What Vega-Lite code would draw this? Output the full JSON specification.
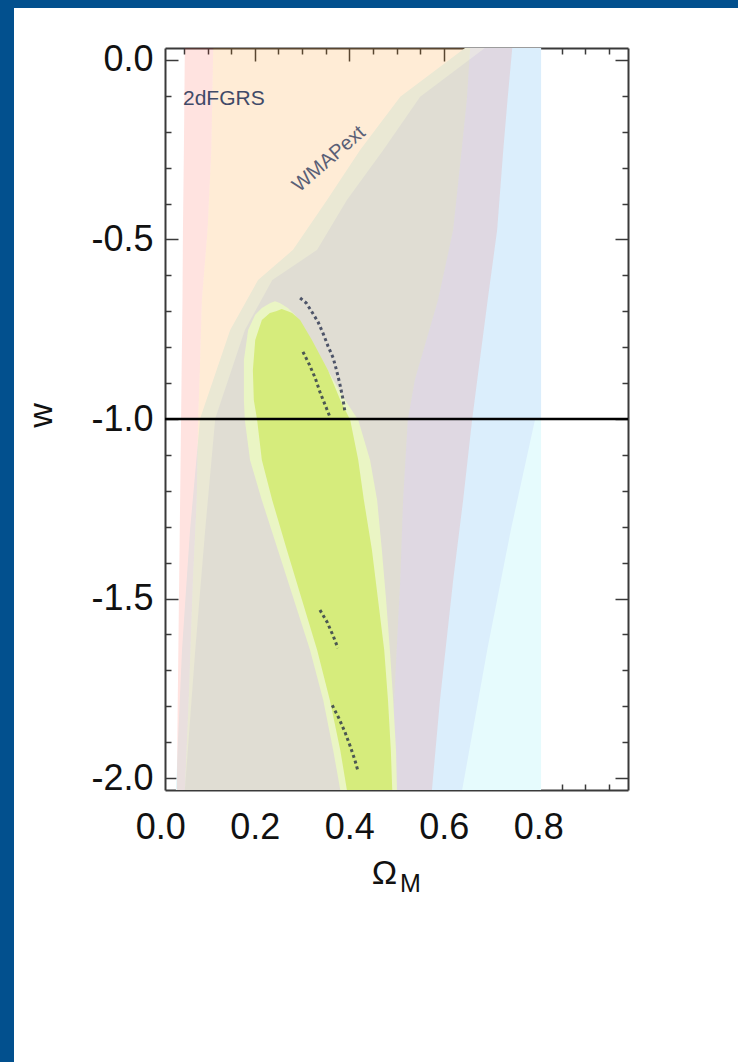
{
  "$schema": "https://vega.github.io/schema/vega-lite/v6.json",
  "width": 724,
  "height": 1054,
  "autosize": {"type": "none"},
  "padding": {"left": 14, "top": 8, "right": 0, "bottom": 0},
  "background": "#02508e",
  "config": {
    "view": {"fill": "white", "stroke": null},
    "axis": {
      "grid": false,
      "zindex": 3,
      "domainColor": "#3a3a3a",
      "domainWidth": 2,
      "tickColor": "#3a3a3a",
      "tickWidth": 1.5,
      "labelFont": "Liberation Sans",
      "titleFont": "Liberation Sans",
      "labelColor": "#111111",
      "titleColor": "#111111",
      "titleFontWeight": "normal",
      "labelFlush": false,
      "labelOverlap": false
    }
  },
  "datasets": {
    "wmap": [
      {"w": 0.033, "outer_lo": 0.645, "inner_lo": 0.687, "inner_hi": 0.806, "outer_hi": 0.806},
      {"w": -0.103, "outer_lo": 0.508, "inner_lo": 0.55, "inner_hi": 0.806, "outer_hi": 0.806},
      {"w": -0.251, "outer_lo": 0.423, "inner_lo": 0.472, "inner_hi": 0.806, "outer_hi": 0.806},
      {"w": -0.39, "outer_lo": 0.353, "inner_lo": 0.395, "inner_hi": 0.806, "outer_hi": 0.806},
      {"w": -0.529, "outer_lo": 0.281, "inner_lo": 0.332, "inner_hi": 0.806, "outer_hi": 0.806},
      {"w": -0.613, "outer_lo": 0.207, "inner_lo": 0.237, "inner_hi": 0.806, "outer_hi": 0.806},
      {"w": -0.752, "outer_lo": 0.148, "inner_lo": 0.179, "inner_hi": 0.806, "outer_hi": 0.806},
      {"w": -1.0, "outer_lo": 0.084, "inner_lo": 0.116, "inner_hi": 0.806, "outer_hi": 0.806},
      {"w": -1.003, "outer_lo": 0.084, "inner_lo": 0.116, "inner_hi": 0.793, "outer_hi": 0.806},
      {"w": -1.309, "outer_lo": 0.063, "inner_lo": 0.095, "inner_hi": 0.742, "outer_hi": 0.806},
      {"w": -1.643, "outer_lo": 0.046, "inner_lo": 0.074, "inner_hi": 0.692, "outer_hi": 0.806},
      {"w": -2.033, "outer_lo": 0.033, "inner_lo": 0.052, "inner_hi": 0.639, "outer_hi": 0.806}
    ],
    "twodf": [
      {"w": 0.033, "red_lo": 0.052, "orange_lo": 0.112, "orange_hi": 0.656, "red_hi": 0.745},
      {"w": -0.111, "red_lo": 0.051, "orange_lo": 0.11, "orange_hi": 0.649, "red_hi": 0.735},
      {"w": -0.251, "red_lo": 0.05, "orange_lo": 0.108, "orange_hi": 0.638, "red_hi": 0.726},
      {"w": -0.474, "red_lo": 0.048, "orange_lo": 0.1, "orange_hi": 0.62, "red_hi": 0.713},
      {"w": -0.669, "red_lo": 0.047, "orange_lo": 0.088, "orange_hi": 0.588, "red_hi": 0.693},
      {"w": -0.891, "red_lo": 0.045, "orange_lo": 0.083, "orange_hi": 0.539, "red_hi": 0.671},
      {"w": -1.003, "red_lo": 0.044, "orange_lo": 0.08, "orange_hi": 0.524, "red_hi": 0.66},
      {"w": -1.226, "red_lo": 0.042, "orange_lo": 0.077, "orange_hi": 0.514, "red_hi": 0.641},
      {"w": -1.448, "red_lo": 0.04, "orange_lo": 0.069, "orange_hi": 0.508, "red_hi": 0.62},
      {"w": -1.783, "red_lo": 0.037, "orange_lo": 0.06, "orange_hi": 0.495, "red_hi": 0.592},
      {"w": -2.033, "red_lo": 0.035, "orange_lo": 0.052, "orange_hi": 0.486, "red_hi": 0.575}
    ],
    "combined95": [
      {"w": -0.672, "lo": 0.243, "hi": 0.243},
      {"w": -0.677, "lo": 0.233, "hi": 0.253},
      {"w": -0.691, "lo": 0.215, "hi": 0.27},
      {"w": -0.71, "lo": 0.201, "hi": 0.285},
      {"w": -0.752, "lo": 0.186, "hi": 0.306},
      {"w": -0.836, "lo": 0.177, "hi": 0.342},
      {"w": -0.947, "lo": 0.177, "hi": 0.391},
      {"w": -1.003, "lo": 0.179, "hi": 0.419},
      {"w": -1.114, "lo": 0.19, "hi": 0.444},
      {"w": -1.226, "lo": 0.215, "hi": 0.459},
      {"w": -1.365, "lo": 0.249, "hi": 0.469},
      {"w": -1.504, "lo": 0.283, "hi": 0.478},
      {"w": -1.643, "lo": 0.317, "hi": 0.486},
      {"w": -1.783, "lo": 0.345, "hi": 0.493},
      {"w": -1.922, "lo": 0.366, "hi": 0.499},
      {"w": -2.033, "lo": 0.381, "hi": 0.501}
    ],
    "combined68": [
      {"w": -0.694, "lo": 0.257, "hi": 0.257},
      {"w": -0.7, "lo": 0.245, "hi": 0.27},
      {"w": -0.705, "lo": 0.232, "hi": 0.279},
      {"w": -0.724, "lo": 0.215, "hi": 0.296},
      {"w": -0.78, "lo": 0.201, "hi": 0.321},
      {"w": -0.864, "lo": 0.196, "hi": 0.355},
      {"w": -0.947, "lo": 0.198, "hi": 0.381},
      {"w": -1.003, "lo": 0.205, "hi": 0.402},
      {"w": -1.114, "lo": 0.215, "hi": 0.419},
      {"w": -1.226, "lo": 0.237, "hi": 0.431},
      {"w": -1.365, "lo": 0.268, "hi": 0.448},
      {"w": -1.504, "lo": 0.3, "hi": 0.461},
      {"w": -1.643, "lo": 0.332, "hi": 0.474},
      {"w": -1.783, "lo": 0.359, "hi": 0.482},
      {"w": -1.922, "lo": 0.381, "hi": 0.488},
      {"w": -2.033, "lo": 0.395, "hi": 0.491}
    ],
    "contour": [
      {"seg": "a", "omega": 0.296, "w": -0.663},
      {"seg": "a", "omega": 0.309, "w": -0.677},
      {"seg": "a", "omega": 0.321, "w": -0.702},
      {"seg": "a", "omega": 0.334, "w": -0.73},
      {"seg": "a", "omega": 0.345, "w": -0.763},
      {"seg": "a", "omega": 0.355, "w": -0.797},
      {"seg": "a", "omega": 0.366, "w": -0.83},
      {"seg": "a", "omega": 0.374, "w": -0.869},
      {"seg": "a", "omega": 0.381, "w": -0.908},
      {"seg": "a", "omega": 0.387, "w": -0.947},
      {"seg": "a", "omega": 0.391, "w": -0.981},
      {"seg": "b", "omega": 0.302, "w": -0.813},
      {"seg": "b", "omega": 0.315, "w": -0.847},
      {"seg": "b", "omega": 0.328, "w": -0.886},
      {"seg": "b", "omega": 0.338, "w": -0.925},
      {"seg": "b", "omega": 0.349, "w": -0.961},
      {"seg": "b", "omega": 0.359, "w": -0.994},
      {"seg": "c", "omega": 0.338, "w": -1.532},
      {"seg": "c", "omega": 0.353, "w": -1.565},
      {"seg": "c", "omega": 0.366, "w": -1.604},
      {"seg": "c", "omega": 0.376, "w": -1.638},
      {"seg": "d", "omega": 0.364, "w": -1.797},
      {"seg": "d", "omega": 0.378, "w": -1.833},
      {"seg": "d", "omega": 0.391, "w": -1.872},
      {"seg": "d", "omega": 0.402, "w": -1.911},
      {"seg": "d", "omega": 0.412, "w": -1.95},
      {"seg": "d", "omega": 0.419, "w": -1.983}
    ]
  },
  "layer": [
    {
      "data": {"name": "wmap"},
      "mark": {"type": "area", "orient": "horizontal", "color": "#e6fbfd"},
      "encoding": {
        "y": {
          "field": "w", "type": "quantitative",
          "scale": {"domain": [-2.033, 0.033], "range": [782, 40], "nice": false, "zero": false},
          "axis": {
            "orient": "left", "offset": -151,
            "values": [0, -0.5, -1, -1.5, -2],
            "labelExpr": "(datum.value < 0 ? '-' : '') + format(abs(datum.value), '.1f')",
            "tickSize": -13, "labelPadding": 25, "labelFontSize": 36,
            "title": "w", "titleFontSize": 34, "titleAngle": 270,
            "titleX": -114, "titleY": 407, "titleAlign": "center", "titleBaseline": "alphabetic"
          }
        },
        "x": {
          "field": "outer_lo", "type": "quantitative",
          "scale": {"domain": [0.01, 0.99], "range": [151, 614], "nice": false, "zero": false},
          "axis": {
            "orient": "bottom", "offset": -272,
            "values": [0.01, 0.2, 0.4, 0.6, 0.8],
            "labelExpr": "datum.value < 0.1 ? '0.0' : format(datum.value, '.1f')",
            "labelOffset": {"condition": {"test": "datum.value < 0.1", "value": -4.7}, "value": 0},
            "tickSize": -13,
            "tickOpacity": {"condition": {"test": "datum.value < 0.1", "value": 0}, "value": 1},
            "labelPadding": 33.6, "labelFontSize": 36,
            "title": "Ω", "titleFontSize": 34,
            "titleX": 370, "titleY": 93, "titleAlign": "center", "titleBaseline": "alphabetic"
          }
        },
        "x2": {"field": "outer_hi"}
      }
    },
    {
      "data": {"name": "wmap"},
      "mark": {"type": "area", "orient": "horizontal", "color": "#dbeefc"},
      "encoding": {
        "y": {
          "field": "w", "type": "quantitative",
          "scale": {"domain": [-2.033, 0.033], "range": [782, 40], "nice": false, "zero": false},
          "axis": {
            "orient": "left", "offset": -151,
            "values": [-0.1, -0.2, -0.3, -0.4, -0.6, -0.7, -0.8, -0.9, -1.1, -1.2, -1.3, -1.4, -1.6, -1.7, -1.8, -1.9],
            "tickSize": -6, "labels": false, "domain": false, "title": null
          }
        },
        "x": {
          "field": "inner_lo", "type": "quantitative",
          "scale": {"domain": [0.01, 0.99], "range": [151, 614], "nice": false, "zero": false},
          "axis": {
            "orient": "bottom", "offset": -272,
            "values": [0.05, 0.1, 0.15, 0.25, 0.3, 0.35, 0.45, 0.5, 0.55, 0.65, 0.7, 0.75, 0.85, 0.9, 0.95],
            "tickSize": -6, "labels": false, "domain": false,
            "title": "M", "titleFontSize": 25,
            "titleX": 396, "titleY": 101, "titleAlign": "center", "titleBaseline": "alphabetic"
          }
        },
        "x2": {"field": "inner_hi"}
      }
    },
    {
      "data": {"name": "twodf"},
      "mark": {"type": "area", "orient": "horizontal", "color": "#ff2a10", "opacity": 0.13},
      "encoding": {
        "y": {"field": "w", "type": "quantitative", "scale": {"domain": [-2.033, 0.033], "range": [782, 40], "nice": false, "zero": false}, "axis": null},
        "x": {"field": "red_lo", "type": "quantitative", "scale": {"domain": [0.01, 0.99], "range": [151, 614], "nice": false, "zero": false}, "axis": null},
        "x2": {"field": "orange_lo"}
      }
    },
    {
      "data": {"name": "twodf"},
      "mark": {"type": "area", "orient": "horizontal", "color": "#ff2a10", "opacity": 0.11},
      "encoding": {
        "y": {"field": "w", "type": "quantitative", "scale": {"domain": [-2.033, 0.033], "range": [782, 40], "nice": false, "zero": false}, "axis": null},
        "x": {"field": "orange_hi", "type": "quantitative", "scale": {"domain": [0.01, 0.99], "range": [151, 614], "nice": false, "zero": false}, "axis": null},
        "x2": {"field": "red_hi"}
      }
    },
    {
      "data": {"name": "twodf"},
      "mark": {"type": "area", "orient": "horizontal", "color": "#ff8a00", "opacity": 0.16},
      "encoding": {
        "y": {"field": "w", "type": "quantitative", "scale": {"domain": [-2.033, 0.033], "range": [782, 40], "nice": false, "zero": false}, "axis": null},
        "x": {"field": "orange_lo", "type": "quantitative", "scale": {"domain": [0.01, 0.99], "range": [151, 614], "nice": false, "zero": false}, "axis": null},
        "x2": {"field": "orange_hi"}
      }
    },
    {
      "data": {"name": "combined95"},
      "mark": {"type": "area", "orient": "horizontal", "color": "#eaf5c4"},
      "encoding": {
        "y": {
          "field": "w", "type": "quantitative",
          "scale": {"domain": [-2.033, 0.033], "range": [782, 40], "nice": false, "zero": false},
          "axis": {
            "orient": "right", "offset": -110,
            "values": [0, -0.5, -1, -1.5, -2],
            "tickSize": -13, "labels": false, "title": null
          }
        },
        "x": {
          "field": "lo", "type": "quantitative",
          "scale": {"domain": [0.01, 0.99], "range": [151, 614], "nice": false, "zero": false},
          "axis": {
            "orient": "top", "offset": -40,
            "values": [0.2, 0.4, 0.6, 0.8],
            "tickSize": -13, "labels": false, "title": null
          }
        },
        "x2": {"field": "hi"}
      }
    },
    {
      "data": {"name": "combined68"},
      "mark": {"type": "area", "orient": "horizontal", "color": "#d6ec7c"},
      "encoding": {
        "y": {
          "field": "w", "type": "quantitative",
          "scale": {"domain": [-2.033, 0.033], "range": [782, 40], "nice": false, "zero": false},
          "axis": {
            "orient": "right", "offset": -110,
            "values": [-0.1, -0.2, -0.3, -0.4, -0.6, -0.7, -0.8, -0.9, -1.1, -1.2, -1.3, -1.4, -1.6, -1.7, -1.8, -1.9],
            "tickSize": -6, "labels": false, "domain": false, "title": null
          }
        },
        "x": {
          "field": "lo", "type": "quantitative",
          "scale": {"domain": [0.01, 0.99], "range": [151, 614], "nice": false, "zero": false},
          "axis": {
            "orient": "top", "offset": -40,
            "values": [0.05, 0.1, 0.15, 0.25, 0.3, 0.35, 0.45, 0.5, 0.55, 0.65, 0.7, 0.75, 0.85, 0.9, 0.95],
            "tickSize": -6, "labels": false, "domain": false, "title": null
          }
        },
        "x2": {"field": "hi"}
      }
    },
    {
      "data": {"name": "contour"},
      "mark": {"type": "line", "color": "#1c2544", "strokeWidth": 3, "strokeDash": [3, 3], "opacity": 0.75},
      "encoding": {
        "y": {"field": "w", "type": "quantitative", "scale": {"domain": [-2.033, 0.033], "range": [782, 40], "nice": false, "zero": false}, "axis": null},
        "x": {"field": "omega", "type": "quantitative", "scale": {"domain": [0.01, 0.99], "range": [151, 614], "nice": false, "zero": false}, "axis": null},
        "detail": {"field": "seg"}
      }
    },
    {
      "data": {"values": [{"w": -1.0}]},
      "mark": {"type": "rule", "color": "#000000", "strokeWidth": 2.5},
      "encoding": {
        "y": {"field": "w", "type": "quantitative", "scale": {"domain": [-2.033, 0.033], "range": [782, 40], "nice": false, "zero": false}, "axis": null},
        "x": {"datum": 0.01, "type": "quantitative", "scale": {"domain": [0.01, 0.99], "range": [151, 614], "nice": false, "zero": false}, "axis": null},
        "x2": {"datum": 0.99}
      }
    },
    {
      "data": {"values": [{"survey": "2dFGRS"}]},
      "mark": {"type": "text", "align": "left", "baseline": "alphabetic", "font": "Liberation Sans", "fontSize": 21, "color": "#3f4a68"},
      "encoding": {
        "y": {"datum": -0.125, "type": "quantitative", "scale": {"domain": [-2.033, 0.033], "range": [782, 40], "nice": false, "zero": false}, "axis": null},
        "x": {"datum": 0.048, "type": "quantitative", "scale": {"domain": [0.01, 0.99], "range": [151, 614], "nice": false, "zero": false}, "axis": null},
        "text": {"field": "survey"}
      }
    },
    {
      "data": {"values": [{"survey": "WMAPext"}]},
      "mark": {"type": "text", "align": "center", "baseline": "middle", "angle": 319, "font": "Liberation Sans", "fontSize": 20, "color": "#5a6076"},
      "encoding": {
        "y": {"datum": -0.276, "type": "quantitative", "scale": {"domain": [-2.033, 0.033], "range": [782, 40], "nice": false, "zero": false}, "axis": null},
        "x": {"datum": 0.357, "type": "quantitative", "scale": {"domain": [0.01, 0.99], "range": [151, 614], "nice": false, "zero": false}, "axis": null},
        "text": {"field": "survey"}
      }
    }
  ],
  "resolve": {"axis": {"x": "independent", "y": "independent"}}
}
